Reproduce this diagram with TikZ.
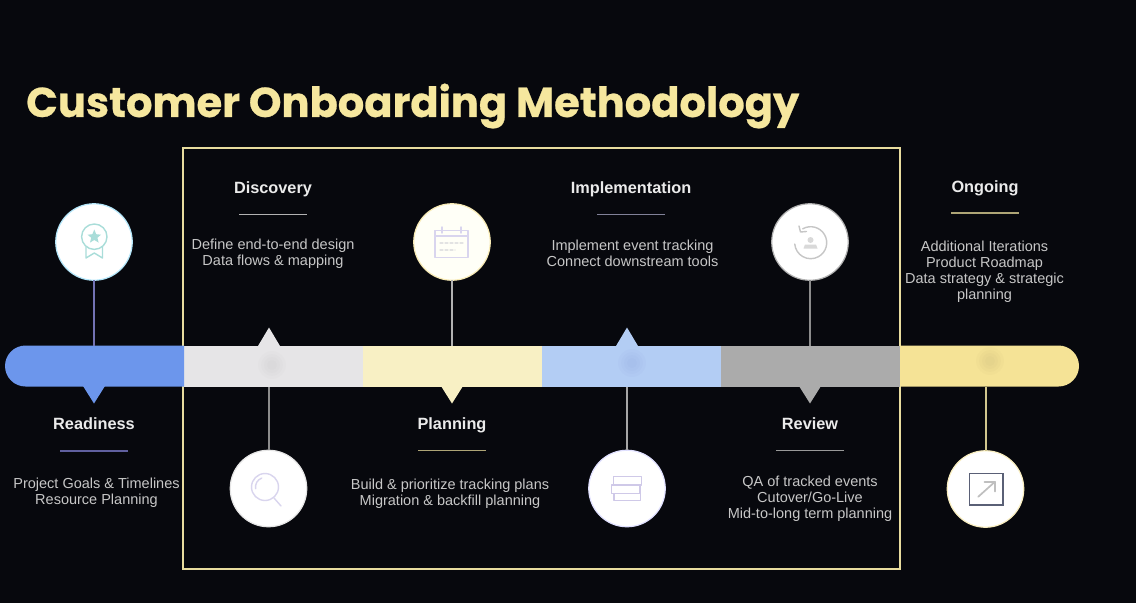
\documentclass[tikz,border=0pt]{standalone}
\usepackage{fontspec}
\setmainfont{Liberation Sans}
\newfontfamily\titlefont[FakeBold=0.6]{Poppins}
\usetikzlibrary{calc}
\definecolor{bgc}{HTML}{07080D}
\definecolor{framec}{HTML}{E8DC9E}
\definecolor{titlec}{HTML}{F6E79E}
\definecolor{segA}{HTML}{6C96EC}
\definecolor{segB}{HTML}{E6E5E7}
\definecolor{segC}{HTML}{F8F0C4}
\definecolor{segD}{HTML}{B3CDF4}
\definecolor{segE}{HTML}{ABABAB}
\definecolor{segF}{HTML}{F5E396}
\definecolor{lav}{HTML}{D9D5EE}
\definecolor{lavB}{HTML}{CFC9E8}
\definecolor{teal}{HTML}{A9DDD9}
\definecolor{sqc}{HTML}{5A6076}
\tikzset{
  x=1pt,y=-1pt,
  seglabel/.style={text=white!92!black,font=\fontsize{16.3}{18}\selectfont\bfseries,inner sep=0pt,anchor=center},
  body/.style={text=white!78!black,font=\fontsize{14.5}{16}\selectfont,align=center,inner sep=0pt,anchor=north},
  seg/.style={minimum width=179pt,minimum height=41pt,inner sep=0pt,outer sep=0pt,anchor=north west},
  disc/.style={circle,fill=white,minimum size=76.5pt,inner sep=0pt,outer sep=0pt,line width=1.2pt},
  stem/.style={line width=2pt},
  rulem/.style={line width=1.5pt},
  icon/.style={line width=1.4pt,line join=round,line cap=round},
}
\begin{document}
\begin{tikzpicture}
\useasboundingbox (0,0) rectangle (1136,603);
\fill[bgc] (0,0) rectangle (1136,603);

% title
\node[anchor=west,inner sep=0pt,text=titlec,font=\titlefont\fontsize{41.6}{46}\selectfont\bfseries] (title) at (26,106) {Customer Onboarding Methodology};

% frame
\node[draw=framec,line width=2pt,minimum width=716.7pt,minimum height=420.5pt,inner sep=0pt,outer sep=0pt,anchor=north west] (frame) at (183.3,148) {};

% bar segments
\node[seg,fill=segB] (s2) at (184,345.5) {};
\node[seg,fill=segC] (s3) at (363,345.5) {};
\node[seg,fill=segD] (s4) at (542,345.5) {};
\node[seg,fill=segE] (s5) at (721,345.5) {};
\fill[segA] (184.2,345.5) -- (25.5,345.5) arc[start angle=-90,end angle=-270,radius=20.5] -- (184.2,386.5) -- cycle;
\fill[segF] (900,345.5) -- (1058.5,345.5) arc[start angle=-90,end angle=90,radius=20.5] -- (900,386.5) -- cycle;
\coordinate (s1top) at (94,345.5);
\coordinate (s6bot) at (985.5,386.5);

% faint marks on the bar
\foreach \p/\q/\c in {272/365/gray,632/363/blue!40!gray,990/361/black!60!segF}{
  \foreach \r in {14,11,8,5}{\fill[\c,opacity=.025] (\p,\q) circle (\r);}
}

% pointers
\fill[segA] (83,386) -- (105,386) -- (94,403.5) -- cycle;
\fill[segB] (258,346) -- (280,346) -- (269,327.5) -- cycle;
\fill[segC] (441,386) -- (463,386) -- (452,403.5) -- cycle;
\fill[segD] (616,346) -- (638,346) -- (627,327.5) -- cycle;
\fill[segE] (799,386) -- (821,386) -- (810,403.5) -- cycle;

% discs
\node[disc,draw=cyan!30!white] (c1) at (94,242) {};
\node[disc,draw=white!90!black] (c2) at (268.5,488.5) {};
\node[disc,fill=white!97!yellow,draw=segF!70!white] (c3) at (452,242) {};
\node[disc,draw=blue!12!white] (c4) at (627,488.5) {};
\node[disc,draw=white!70!black] (c5) at (810,242) {};
\node[disc,draw=segF!60!white] (c6) at (985.5,489) {};

% stems
\draw[stem,color=blue!30!gray!85!white] (c1.south) -- (s1top);
\draw[stem,color=white!55!black] (c2.north) -- (c2.north |- s2.south);
\draw[stem,color=white!70!black] (c3.south) -- (c3.south |- s3.north);
\draw[stem,color=white!65!black] (c4.north) -- (c4.north |- s4.south);
\draw[stem,color=white!55!black] (c5.south) -- (c5.south |- s5.north);
\draw[stem,color=framec!90!black] (c6.north) -- (s6bot);

% headings
\node[seglabel] (h1) at (94,424) {Readiness};
\node[seglabel] (h2) at (273,189.5) {Discovery};
\node[seglabel] (h3) at (452,425) {Planning};
\node[seglabel] (h4) at (631,189.5) {Implementation};
\node[seglabel] (h5) at (810,424) {Review};
\node[seglabel] (h6) at (985,188.5) {Ongoing};

% rules
\coordinate (r1a) at (60,451); \coordinate (r1b) at (128,451);
\coordinate (r2a) at (239,214.5); \coordinate (r2b) at (307,214.5);
\coordinate (r3a) at (418,450.5); \coordinate (r3b) at (486,450.5);
\coordinate (r4a) at (597,214.5); \coordinate (r4b) at (665,214.5);
\coordinate (r5a) at (776,450.5); \coordinate (r5b) at (844,450.5);
\coordinate (r6a) at (951,213); \coordinate (r6b) at (1019,213);
\draw[rulem,color=blue!25!gray] (r1a) -- (r1b);
\draw[rulem,color=white!70!black] (r2a) -- (r2b);
\draw[rulem,color=framec!75!black] (r3a) -- (r3b);
\draw[rulem,color=blue!10!gray!90!white] (r4a) -- (r4b);
\draw[rulem,color=white!60!black] (r5a) -- (r5b);
\draw[rulem,color=framec!75!black] (r6a) -- (r6b);

% body
\node[body] (b1) at (96.5,478) {Project Goals \& Timelines\\Resource Planning};
\node[body] (b2) at (273,239) {Define end-to-end design\\Data flows \& mapping};
\node[body] (b3) at (450,479) {Build \& prioritize tracking plans\\Migration \& backfill planning};
\node[body] (b4) at (632.5,240) {Implement event tracking\\Connect downstream tools};
\node[body] (b5) at (810,476) {QA of tracked events\\Cutover/Go-Live\\Mid-to-long term planning};
\node[body] (b6) at (984.5,241) {Additional Iterations\\Product Roadmap\\Data strategy \& strategic\\planning};

% icon: ribbon
\begin{scope}[icon,draw=teal]
  \draw (94.3,236.7) circle (12.7);
  \draw (86,247) -- (86,258) -- (94.3,253) -- (102.5,258) -- (102.5,247);
  \fill[teal] (94.3,229.5) -- (96.2,234.2) -- (101,234.7) -- (97.4,237.8) -- (98.6,242.6) -- (94.3,240) -- (90,242.6) -- (91.2,237.8) -- (87.6,234.7) -- (92.4,234.2) -- cycle;
\end{scope}
% icon: magnifier
\begin{scope}[icon,draw=lav]
  \draw (265,487) circle (13.5);
  \draw (265,487) ++(170:9.5) arc[start angle=170,end angle=250,radius=9.5];
  \draw (274,498) -- (281,506);
\end{scope}
% icon: calendar
\begin{scope}[icon,draw=lav]
  \draw (435,230.7) rectangle (468,257.3);
  \draw (435,236) -- (468,236);
  \draw (442,227) -- (442,233);
  \draw (461,227) -- (461,233);
  \draw[line width=1.2pt,dash pattern=on 3pt off 2pt,draw=gray!22] (440,243) -- (463,243);
  \draw[line width=1.2pt,dash pattern=on 3pt off 2pt,draw=gray!22] (440,250) -- (455,250);
\end{scope}
% icon: stacked books
\begin{scope}[icon,draw=lavB]
  \draw (613.3,476.7) rectangle (641.7,485);
  \draw (611.7,485) rectangle (640,493.3);
  \draw (614,493.3) rectangle (640.7,500.7);
\end{scope}
% icon: refresh
\begin{scope}[icon,draw=gray!45]
  \draw (810.7,242.7) ++(-120:16) arc[start angle=-120,end angle=175,radius=16];
  \draw (799,226) -- (800.5,232) -- (806.5,231.5);
  \fill[gray!30] (810.5,240) circle (3);
  \fill[gray!30] (803.5,248.5) -- (805,244.5) -- (816,244.5) -- (817.5,248.5) -- cycle;
\end{scope}
% icon: external arrow
\draw[line width=1.6pt,draw=sqc] (969.3,473.3) rectangle (1002.7,504.7);
\draw[icon,line width=1.7pt,draw=gray!50] (978.3,496.7) -- (995,481.7);
\draw[icon,line width=1.7pt,draw=gray!50] (984.5,481.7) -- (995,481.7) -- (995,491.5);
\end{tikzpicture}
\end{document}
